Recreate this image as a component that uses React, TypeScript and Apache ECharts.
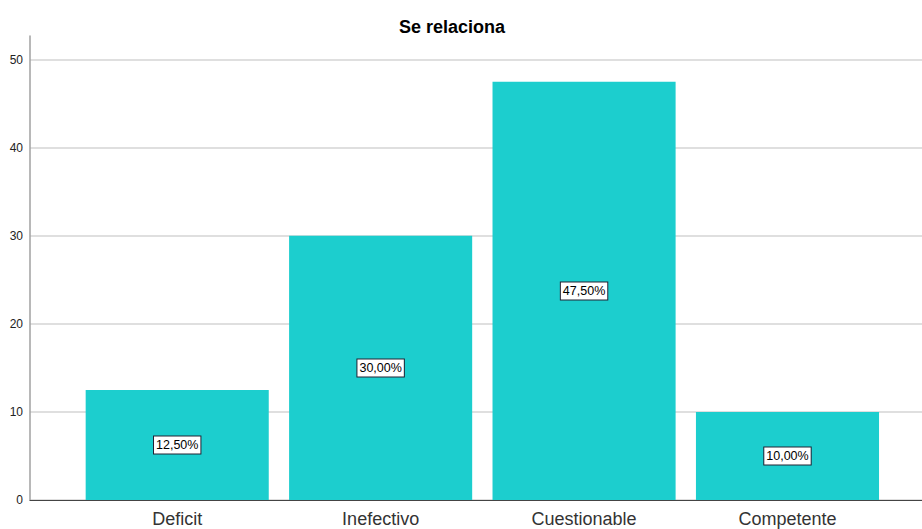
import React, { useEffect, useRef } from "react";
import * as echarts from "echarts";

const categories = ["Deficit", "Inefectivo", "Cuestionable", "Competente"];
const values = [12.5, 30, 47.5, 10];
const percentLabels = ["12,50%", "30,00%", "47,50%", "10,00%"];
const yTicks = [0, 10, 20, 30, 40, 50];
const title = "Se relaciona";

export default function App() {
  const ref = useRef<HTMLDivElement>(null);
  useEffect(() => {
    document.body.style.margin = "0";
    const chart = echarts.init(ref.current!, null, { renderer: "svg" });
    const yMax = 52.7;
    chart.setOption({
      animation: false,
      title: {
        text: title,
        left: 394,
        top: 13,
        textStyle: { fontFamily: "Liberation Sans", fontSize: 18, fontWeight: "bold", color: "#000" },
      },
      grid: [
        { left: 30, right: 0, top: 36, bottom: 29 },
        { left: 75.5, right: 32.8, top: 36, bottom: 29 },
      ],
      xAxis: [
        {
          gridIndex: 0,
          type: "category",
          data: [""],
          axisLine: { show: true, lineStyle: { color: "#444", width: 1 } },
          axisTick: { show: false },
          axisLabel: { show: false },
        },
        {
          gridIndex: 1,
          type: "category",
          data: categories,
          axisLine: { show: false },
          axisTick: { show: false },
          axisLabel: {
            fontFamily: "Liberation Sans",
            fontSize: 18,
            color: "#333",
            margin: 10,
          },
        },
      ],
      yAxis: [
        {
          gridIndex: 0,
          type: "value",
          min: 0,
          max: yMax,
          interval: 10,
          axisLine: { show: true, lineStyle: { color: "#a0a0a0", width: 1.5 } },
          axisTick: { show: false },
          axisLabel: {
            showMaxLabel: false,
            fontFamily: "Liberation Sans",
            fontSize: 12,
            color: "#222",
            margin: 7,
            formatter: (v: number) => (yTicks.includes(v) ? String(v) : ""),
          },
          splitLine: { show: true, showMaxLine: false, lineStyle: { color: "#d4d4d4", width: 1.5 } },
        },
        {
          gridIndex: 1,
          type: "value",
          min: 0,
          max: yMax,
          interval: 10,
          show: false,
          splitLine: { show: false },
        },
      ],
      series: [
        {
          type: "bar",
          xAxisIndex: 1,
          yAxisIndex: 1,
          data: values,
          barCategoryGap: "10%",
          itemStyle: { color: "#1ccece" },
          label: {
            show: true,
            position: "inside",
            formatter: (p: any) => percentLabels[p.dataIndex],
            fontFamily: "Liberation Sans",
            fontSize: 12.5,
            color: "#000",
            backgroundColor: "#fff",
            borderColor: "#223",
            borderWidth: 1,
            padding: [2, 2, 2, 2],
          },
        },
      ],
    });
    return () => chart.dispose();
  }, []);
  return <div ref={ref} style={{ width: 922, height: 529 }} />;
}
